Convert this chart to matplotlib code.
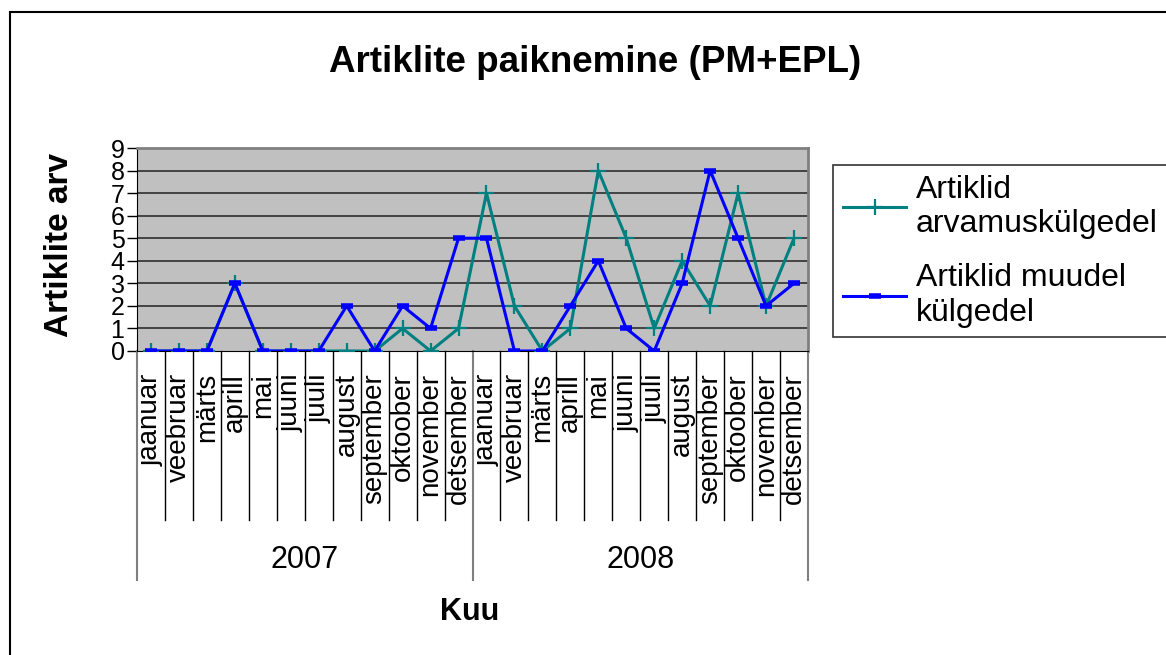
import numpy as np
import matplotlib
matplotlib.use('Agg')
import matplotlib.pyplot as plt
from matplotlib.transforms import blended_transform_factory
from matplotlib.patches import Rectangle

plt.rcParams['font.family'] = ['Liberation Sans', 'DejaVu Sans']

# months of both years
months = ['jaanuar', 'veebruar', 'märts', 'aprill', 'mai', 'juuni', 'juuli',
          'august', 'september', 'oktoober', 'november', 'detsember']
years = ['2007', '2008']

# article counts
arvamus = [0, 0, 0, 3, 0, 0, 0, 0, 0, 1, 0, 1,
           7, 2, 0, 1, 8, 5, 1, 4, 2, 7, 2, 5]
muudel = [0, 0, 0, 3, 0, 0, 0, 2, 0, 2, 1, 5,
          5, 0, 0, 2, 4, 1, 0, 3, 8, 5, 2, 3]

labels = months * len(years)
x = np.arange(len(labels))

W, H = 1166, 655
fig = plt.figure(figsize=(W / 100, H / 100), dpi=100)

# outer chart frame (only left/top visible in the reference)
fig.patches.append(Rectangle((10 / W, -0.1), 1.2, 1 - 12 / H + 0.1, transform=fig.transFigure,
                             fill=False, edgecolor='black', linewidth=1.5))

ax = fig.add_axes([137 / W, 1 - 351 / H, (808 - 137) / W, (351 - 148) / H])
ax.set_facecolor('#C0C0C0')

# gridlines
for v in range(1, 9):
    ax.axhline(v, color='#222222', linewidth=1.1, zorder=1)

ax.plot(x, arvamus, color='#008080', linewidth=2.2, marker='+', markersize=12,
        markeredgewidth=1.6, label='Artiklid\narvamuskülgedel', zorder=3)
ax.plot(x, muudel, color='#0000FF', linewidth=2.2, marker='_', markersize=9,
        markeredgewidth=4, label='Artiklid muudel\nkülgedel', zorder=4)

ax.set_xlim(-0.5, len(labels) - 0.5)
ax.set_ylim(0, 9)
ax.set_yticks(range(0, 10))
ax.tick_params(axis='y', length=7, width=1, labelsize=18, pad=2)
ax.set_xticks(x)
ax.set_xticklabels(labels, rotation=90, fontsize=20, va='top')
ax.tick_params(axis='x', length=0, pad=16)

ax.spines['top'].set_color('#808080')
ax.spines['right'].set_color('#808080')
ax.spines['top'].set_linewidth(2)
ax.spines['right'].set_linewidth(2)
ax.spines['left'].set_color('black')
ax.spines['bottom'].set_color('black')

# category axis dividers
tr = blended_transform_factory(ax.transData, ax.transAxes)
h = (351 - 148)
for k in range(1, len(labels)):
    if k % 12 == 0:
        continue
    ax.plot([k - 0.5, k - 0.5], [0, -(520 - 351) / h], color='black', linewidth=1,
            transform=tr, clip_on=False)
for k in range(0, len(labels) + 1, 12):
    ax.plot([k - 0.5, k - 0.5], [0, -(580 - 351) / h], color='#808080', linewidth=1.5,
            transform=tr, clip_on=False)
for i, yr in enumerate(years):
    ax.text(i * 12 + 5.5, -(560 - 351) / h, yr, transform=tr, ha='center', va='center',
            fontsize=22)

fig.text(595 / W, 1 - 62 / H, 'Artiklite paiknemine (PM+EPL)', ha='center', va='center',
         fontsize=26.5, fontweight='bold')
fig.text(59 / W, 1 - 245 / H, 'Artiklite arv', rotation=90, ha='center', va='center',
         fontsize=24, fontweight='bold')
fig.text(470 / W, 1 - 612 / H, 'Kuu', ha='center', va='center', fontsize=22, fontweight='bold')

leg = ax.legend(loc='upper left', bbox_to_anchor=(833 / W, 1 - 165 / H),
                bbox_transform=fig.transFigure, fontsize=23, frameon=True, fancybox=False,
                edgecolor='black', handlelength=2.0, handletextpad=0.3, labelspacing=0.75,
                borderpad=0.3, borderaxespad=0, numpoints=1)
leg.get_frame().set_linewidth(1.2)

fig.savefig('out.png', dpi=100)
